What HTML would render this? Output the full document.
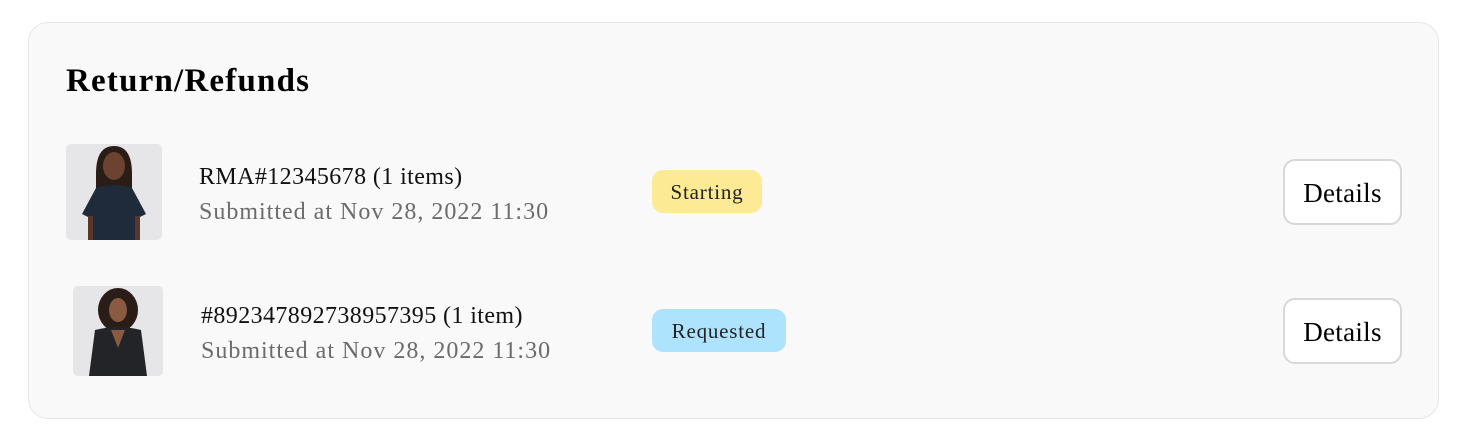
<!DOCTYPE html>
<html><head><style>
body{margin:0;width:1472px;height:446px;background:#fff;font-family:"Liberation Serif",serif;position:relative;overflow:hidden}
.a{position:absolute;white-space:nowrap}
.card{left:28px;top:22px;width:1409px;height:395px;background:#f9f9f9;border:1px solid #e6e6e6;border-radius:20px}
.t{font-size:24px;color:#111;letter-spacing:0.4px}
.s{font-size:24px;color:#6b6b6b;letter-spacing:1px}
.badge{height:43px;border-radius:11px;font-size:21px;color:#222;line-height:45px;text-align:center;letter-spacing:0.8px}
.btn{width:115px;height:62px;background:#fff;border:2px solid #d8d8d8;border-radius:12px;font-size:27px;line-height:64px;text-align:center;color:#000;letter-spacing:0.3px}
</style></head><body>
<div class="a card"></div>
<div class="a" style="left:66px;top:63px;font-size:33px;font-weight:bold;color:#000;letter-spacing:1.2px">Return/Refunds</div>

<svg class="a" style="left:66px;top:144px" width="96" height="96" viewBox="0 0 96 96">
<rect width="96" height="96" rx="5" fill="#e6e5e7"/>
<path d="M30 30 Q30 2 48 2 Q66 2 66 30 L66 44 L30 44Z" fill="#2a1c17"/>
<ellipse cx="48" cy="22" rx="11" ry="14" fill="#6b4330"/>
<path d="M30 44 Q48 38 66 44 L80 70 L72 74 L72 96 L24 96 L24 74 L16 70Z" fill="#1f2a3a"/>
<rect x="22" y="72" width="5" height="24" fill="#5a3626"/><rect x="69" y="72" width="5" height="24" fill="#5a3626"/>
</svg>
<svg class="a" style="left:73px;top:286px" width="90" height="90" viewBox="0 0 90 90">
<rect width="90" height="90" rx="5" fill="#e6e5e7"/>
<ellipse cx="45" cy="24" rx="20" ry="22" fill="#2a1d18"/>
<ellipse cx="45" cy="24" rx="9" ry="12" fill="#8a5a42"/>
<path d="M22 44 Q45 38 68 44 L74 90 L16 90Z" fill="#222428"/>
<path d="M38 44 L45 62 L52 44Z" fill="#8a5a42"/>
</svg>

<div class="a t" style="left:199px;top:164px">RMA#12345678 (1 items)</div>
<div class="a s" style="left:199px;top:199px">Submitted at Nov 28, 2022 11:30</div>
<div class="a t" style="left:201px;top:303px">#892347892738957395 (1 item)</div>
<div class="a s" style="left:201px;top:338px">Submitted at Nov 28, 2022 11:30</div>

<div class="a badge" style="left:652px;top:170px;width:110px;background:#fdea94">Starting</div>
<div class="a badge" style="left:652px;top:309px;width:134px;background:#aee3fd">Requested</div>

<div class="a btn" style="left:1283px;top:159px">Details</div>
<div class="a btn" style="left:1283px;top:298px">Details</div>
</body></html>
